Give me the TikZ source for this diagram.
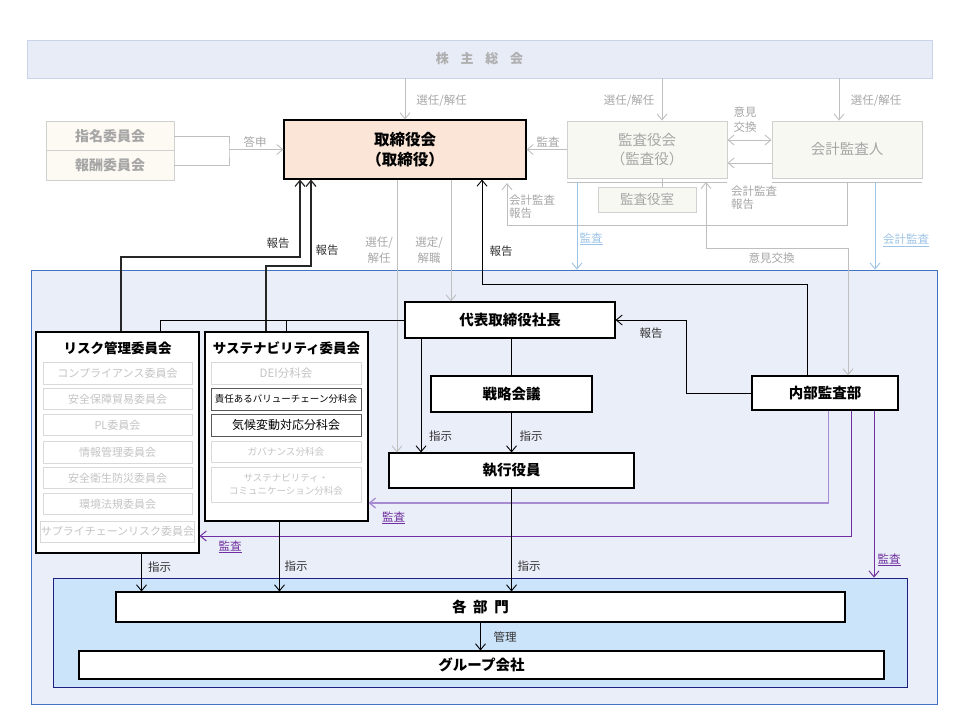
\documentclass[tikz,border=0pt]{standalone}
\usepackage{fontspec}
\setmainfont{Noto Sans CJK JP}
\usetikzlibrary{arrows.meta}
\newcommand{\fsz}[2]{\fontsize{#1}{#2}\selectfont}
\definecolor{gtxt}{HTML}{A6A6A6}
\definecolor{gln}{HTML}{BFBFBF}
\definecolor{gbd}{HTML}{D0D0D0}
\definecolor{shfill}{HTML}{E7ECF7}
\definecolor{shbd}{HTML}{C9D3EA}
\definecolor{boardfill}{HTML}{FBE5D6}
\definecolor{kfill}{HTML}{F6F8F1}
\definecolor{nfill}{HTML}{FDFAF3}
\definecolor{mainfill}{HTML}{EAEEF8}
\definecolor{mainbd}{HTML}{4472C4}
\definecolor{innerfill}{HTML}{CCE4FA}
\definecolor{innerbd}{HTML}{1F1F80}
\definecolor{pur}{HTML}{7030A0}
\definecolor{lpur}{HTML}{A78BD2}
\definecolor{lblue}{HTML}{9DC3E6}
\definecolor{subtxt}{HTML}{C4C4C4}
\definecolor{subbd}{HTML}{D9D9D9}
\definecolor{dk}{HTML}{595959}
\begin{document}
\begin{tikzpicture}[x=1pt,y=-1pt,
  >={Straight Barb[length=6pt,width=10pt]}, line join=miter,
  every node/.style={inner sep=0pt},
  box/.style={draw, rectangle, align=center},
  bkbox/.style={box, draw=black, line width=1.1pt, fill=white, font=\fsz{14.5}{17}\bfseries},
  shbox/.style={box, draw=shbd, fill=shfill, line width=0.9pt, text=gtxt!90, font=\fsz{13}{15}\bfseries},
  nbox/.style={box, draw=gbd, fill=nfill, line width=0.9pt, text=gtxt, font=\fsz{14}{17}\bfseries, minimum width=128pt, minimum height=29.5pt},
  kbox/.style={box, draw=gbd, fill=kfill, line width=0.9pt, text=gtxt, font=\fsz{14.5}{19}},
  subbox/.style={box, draw=subbd, fill=white, text=subtxt, line width=0.8pt, minimum height=21.5pt, font=\fsz{11}{13}},
  rsub/.style={subbox, minimum width=149pt},
  ssub/.style={subbox, minimum width=150pt},
  dsub/.style={ssub, draw=dk, text=black},
  glab/.style={text=gtxt, font=\fsz{11.5}{14}, align=center},
  blab/.style={text=black!80, font=\fsz{11.5}{14}, align=center},
  plab/.style={text=pur, font=\fsz{11.5}{14}},
  ulab/.style={text=lblue, font=\fsz{11.5}{14}},
  gl/.style={draw=gln, line width=0.9pt},
  bul/.style={draw=lblue, line width=0.9pt},
  bk/.style={draw=black, line width=0.9pt},
  bkr/.style={draw=black!85, line width=1.2pt},
  pl/.style={draw=pur, line width=1pt},
  lpl/.style={draw=lpur, line width=1.3pt}
]
\useasboundingbox (0,0) rectangle (960,720);

% ---------- group boxes ----------
\node[box, draw=mainbd, fill=mainfill, line width=0.8pt, minimum width=906pt, minimum height=434pt] (main) at (484,487) {};
\node[box, draw=innerbd, fill=innerfill, line width=0.8pt, minimum width=854pt, minimum height=109pt] (inner) at (480,632.5) {};

% ---------- top section ----------
\node[shbox, minimum width=905pt, minimum height=38pt] (sh) at (479.5,59) {株\hspace{0.9em}主\hspace{0.9em}総\hspace{0.9em}会};
\node[nbox] (nom) at (110,136) {指名委員会};
\node[nbox] (rem) at (110,165.5) {報酬委員会};
\node[box, draw=black, line width=1.1pt, fill=boardfill, font=\fsz{15.5}{20}\bfseries, minimum width=242pt, minimum height=59pt] (board) at (405,149.5) {取締役会\\（取締役）};
\node[kbox, minimum width=160pt, minimum height=57pt] (kansa) at (647,149.5) {監査役会\\（監査役）};
\node[kbox, minimum width=150pt, minimum height=57pt] (kaikei) at (847,149.5) {会計監査人};
\node[kbox, minimum width=98pt, minimum height=25pt, font=\fsz{13.5}{16}] (shitsu) at (647,199.5) {監査役室};

% ---------- executive ----------
\node[bkbox, minimum width=210pt, minimum height=36pt] (daihyo) at (510,320) {代表取締役社長};
\node[bkbox, minimum width=161pt, minimum height=36pt] (senryaku) at (511.5,394) {戦略会議};
\node[bkbox, minimum width=245pt, minimum height=35pt] (shikko) at (511.5,470.5) {執行役員};
\node[bkbox, minimum width=146pt, minimum height=34pt] (naibu) at (825,393) {内部監査部};

% ---------- committees ----------
\node[box, draw=black, line width=1.1pt, fill=white, minimum width=163pt, minimum height=221pt] (risk) at (117.5,442.5) {};
\node[font=\fsz{13.5}{16}\bfseries] (risktitle) at (117.5,348) {リスク管理委員会};
\node[rsub] (rs1) at (117.5,373.3) {コンプライアンス委員会};
\node[rsub] (rs2) at (117.5,399) {安全保障貿易委員会};
\node[rsub] (rs3) at (117.5,425) {PL委員会};
\node[rsub] (rs4) at (117.5,452.2) {情報管理委員会};
\node[rsub] (rs5) at (117.5,478) {安全衛生防災委員会};
\node[rsub] (rs6) at (117.5,504) {環境法規委員会};
\node[rsub] (rs7) at (117.5,531.7) {サプライチェーンリスク委員会};

\node[box, draw=black, line width=1.1pt, fill=white, minimum width=163pt, minimum height=189pt] (sust) at (286.5,426.5) {};
\node[font=\fsz{13.5}{16}\bfseries] (susttitle) at (286.5,348) {サステナビリティ委員会};
\node[ssub, font=\fsz{11.5}{13}] (ss1) at (286,373.5) {DEI分科会};
\node[dsub, minimum height=22pt, font=\fsz{9.5}{12}] (ss2) at (286,399) {責任あるバリューチェーン分科会};
\node[dsub, minimum height=22pt, font=\fsz{12}{14}] (ss3) at (286,425) {気候変動対応分科会};
\node[ssub, minimum height=21pt, font=\fsz{9.6}{12}] (ss4) at (286,452.2) {ガバナンス分科会};
\node[ssub, minimum height=35pt, font=\fsz{9.5}{13}] (ss5) at (286,484.5) {サステナビリティ・\\コミュニケーション分科会};

% ---------- bottom ----------
\node[bkbox, minimum width=729pt, minimum height=30pt] (bumon) at (480.5,607) {各\hspace{0.45em}部\hspace{0.45em}門};
\node[bkbox, minimum width=805pt, minimum height=28pt] (groupco) at (481.5,665) {グループ会社};

% ---------- helper coordinates ----------
\coordinate (sk) at ([xshift=15pt]kansa.north);
\coordinate (sa) at ([xshift=-8pt]kaikei.north);
\coordinate (j1) at (229,149.5);
\coordinate (kr) at (507,225);
\coordinate (ik1) at (706,248);
\coordinate (ik2) at (848,248);
\coordinate (ba) at (577,0);
\coordinate (bb) at (875,0);
\coordinate (r1) at (300,257);
\coordinate (r2) at (311,266);
\coordinate (r3) at (482,284);
\coordinate (g1) at (397,0);
\coordinate (g2) at (451,0);
\coordinate (d1) at (421,0);
\coordinate (nr) at (686,393);
\coordinate (p1) at (828.5,503);
\coordinate (p2) at (851,536);
\coordinate (p3) at (874,0);
\coordinate (i1) at (141.5,0);
\coordinate (i2) at (279.5,0);

% ---------- top connectors ----------
\draw[gl,->] (board.north |- sh.south) -- (board.north);
\draw[gl,->] (sk |- sh.south) -- (sk);
\draw[gl,->] (sa |- sh.south) -- (sa);
\draw[gl] (nom.east) -| (j1) |- (rem.east);
\draw[gl,->] (j1) -- (board.west);
\draw[gl,->] (kansa.west) -- (board.east);
\draw[gl,<->] ([yshift=9.5pt]kansa.east) -- ([yshift=9.5pt]kaikei.west);
\draw[gl,->] ([yshift=-13.5pt]kaikei.west) -- ([yshift=-13.5pt]kansa.east);
\draw[gl] ([xshift=15pt]kansa.south) -- ([xshift=15pt]shitsu.north);
\draw[gl] ([yshift=-3.5pt]kansa.south west) -- ([yshift=-3.5pt]kansa.south east);
\draw[gl] ([yshift=-3.5pt]kaikei.south west) -- ([yshift=-3.5pt]kaikei.south east);
\draw[gl,->,shorten <=3.5pt,shorten >=3.5pt] (kaikei.south) |- (kr) -- (kr |- board.south);
\draw[gl,<->,shorten <=3.5pt] (ik1 |- kansa.south) -- (ik1) -- (ik2) -- (ik2 |- naibu.north);
\draw[bul,->,shorten <=3.5pt] (kansa.south -| ba) -- (main.north -| ba);
\draw[bul,->,shorten <=3.5pt] (kaikei.south -| bb) -- (main.north -| bb);

% ---------- reports to board ----------
\draw[bkr,->] ([xshift=3.5pt]risk.north) |- (r1) -- (r1 |- board.south);
\draw[bkr,->] ([xshift=-20.5pt]sust.north) |- (r2) -- (r2 |- board.south);
\draw[bk,->] ([xshift=-18pt]naibu.north) |- (r3) -- (r3 |- board.south);
\draw[gl,->] (board.south -| g1) -- (shikko.north -| g1);
\draw[gl,->] (board.south -| g2) -- (daihyo.north -| g2);

% ---------- executive connectors ----------
\draw[bk] (daihyo.west) -| ([xshift=42.5pt]risk.north);
\draw[bk] (sust.north) -- (sust.north |- daihyo.west);
\draw[bk,->] (daihyo.south -| d1) -- (shikko.north -| d1);
\draw[bk] (daihyo.south -| senryaku.north) -- (senryaku.north);
\draw[bk,->] (senryaku.south) -- (shikko.north -| senryaku.south);
\draw[bk,->] (naibu.west) -- (nr) |- (daihyo.east);

% ---------- audits ----------
\draw[lpl,->] (naibu.south -| p1) -- (p1) -- (p1 -| sust.east);
\draw[pl,->] (naibu.south -| p2) -- (p2) -- (p2 -| risk.east);
\draw[pl,->] (naibu.south -| p3) -- (inner.north -| p3);

% ---------- instructions ----------
\draw[bk,->] (risk.south -| i1) -- (bumon.north -| i1);
\draw[bk,->] (sust.south -| i2) -- (bumon.north -| i2);
\draw[bk,->] (shikko.south) -- (bumon.north -| shikko.south);
\draw[bk,->] (bumon.south) -- (groupco.north -| bumon.south);

% ---------- labels ----------
\node[glab] (l1) at (441.5,101) {選任/解任};
\node[glab] (l2) at (629,101) {選任/解任};
\node[glab] (l3) at (876,101) {選任/解任};
\node[glab] (l4) at (255,142) {答申};
\node[glab] (l5) at (548,142.5) {監査};
\node[glab, font=\fsz{11.5}{14.5}] (l6) at (745,119.5) {意見\\交換};
\node[glab, anchor=west, align=left, font=\fsz{11.5}{13}] (l7) at (509,206.5) {会計監査\\報告};
\node[glab, anchor=west, align=left, font=\fsz{11.5}{13}] (l8) at (731,198) {会計監査\\報告};
\node[ulab] (l9) at (591,239) {\underline{監査}};
\node[ulab] (l10) at (906,240) {\underline{会計監査}};
\node[glab] (l11) at (771.5,258) {意見交換};
\node[glab, font=\fsz{11.5}{16}] (l12) at (379,250) {選任/\\解任};
\node[glab, font=\fsz{11.5}{16}] (l13) at (429,250) {選定/\\解職};
\node[blab] (l14) at (278,243) {報告};
\node[blab] (l15) at (327,250) {報告};
\node[blab] (l16) at (501,251) {報告};
\node[blab] (l17) at (651,333) {報告};
\node[blab] (l18) at (440.5,436) {指示};
\node[blab] (l19) at (531,436) {指示};
\node[plab] (l20) at (393.5,518) {\underline{監査}};
\node[plab] (l21) at (230,547) {\underline{監査}};
\node[plab] (l22) at (889,560) {\underline{監査}};
\node[blab] (l23) at (159.5,567) {指示};
\node[blab] (l24) at (296,566) {指示};
\node[blab] (l25) at (529,566) {指示};
\node[blab] (l26) at (505,637) {管理};
\end{tikzpicture}
\end{document}
